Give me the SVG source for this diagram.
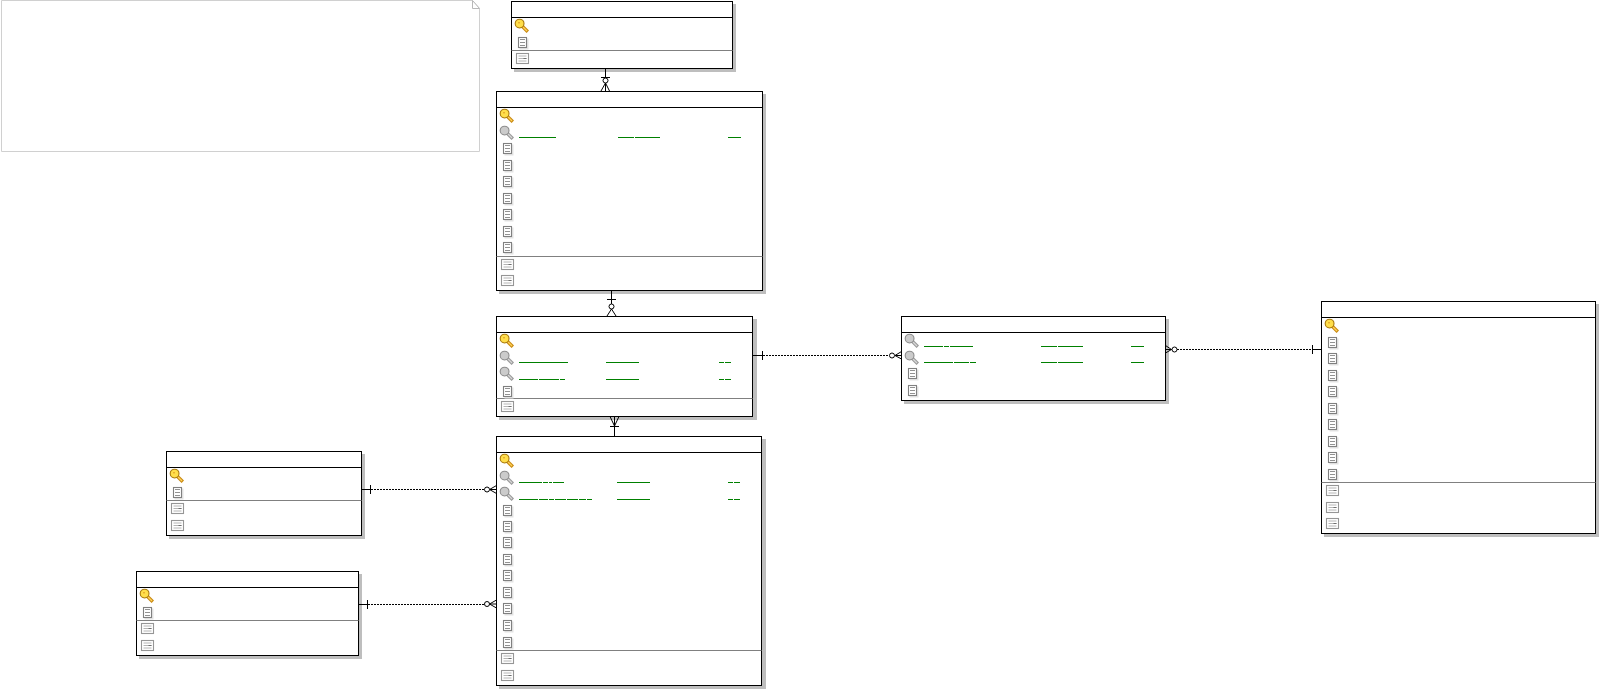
<svg xmlns="http://www.w3.org/2000/svg" width="1600" height="689" viewBox="0 0 1600 689">
<style>
.shadow{fill:#bebebe}
.box{fill:#fff;stroke:#000;stroke-width:1}
.hdr{fill:none;stroke:#000;stroke-width:1}
.div{fill:none;stroke:#808080;stroke-width:1}
.fk{fill:none;stroke:#008000;stroke-width:1}
.note{fill:#fff;stroke:#d0d0d0;stroke-width:1}
.fold{fill:#fff;stroke:#b8b8b8;stroke-width:1}
.solid{fill:none;stroke:#000;stroke-width:1}
.dot{fill:none;stroke:#000;stroke-width:1;stroke-dasharray:2 1}
.foot{fill:none;stroke:#000;stroke-width:1}
.ring{fill:#fff;stroke:#000;stroke-width:1}
</style>
<defs>
<g id="key">
<path d="M0 0L5.8 5.8" stroke="#c98a12" stroke-width="3.4" fill="none"/>
<path d="M1 1L5 5" stroke="#ffd25a" stroke-width="1.2" fill="none"/>
<circle cx="-2.4" cy="-2.4" r="4.4" fill="#ffde4a" stroke="#a8780a" stroke-width="1.1"/>
<path d="M-4 -3.2h2" stroke="#e09a20" stroke-width="1"/>
</g>
<g id="gkey">
<path d="M0 0L5.8 5.8" stroke="#9a9a9a" stroke-width="3.4" fill="none"/>
<path d="M1 1L5 5" stroke="#d8d8d8" stroke-width="1.2" fill="none"/>
<circle cx="-2.4" cy="-2.4" r="4.4" fill="#cbcbcb" stroke="#8c8c8c" stroke-width="1.1"/>
</g>
<g id="doc">
<rect x="-3.5" y="-3.5" width="9" height="11" fill="#e4e4e4"/>
<rect x="-4.5" y="-4.5" width="8" height="10" fill="#fff" stroke="#808080" stroke-width="1.1"/>
<path d="M-3 -2.5h5M-3 0.5h5M-3 3.5h5" stroke="#929292" stroke-width="1.2" fill="none"/>
</g>
<g id="op">
<rect x="-5.5" y="-4.5" width="12" height="10" fill="#fff" stroke="#969696" stroke-width="1.1"/>
<path d="M-3.5 -2h8M-3.5 0.5h8M-3.5 3h8" stroke="#b4b4b4" stroke-width="1" fill="none"/>
<path d="M1.5 0.5h3" stroke="#707070" stroke-width="1" fill="none"/>
</g>
</defs>

<g id="note">
<path class="note" d="M1.5 0.5H472.5L479.5 8.5V151.5H1.5Z"/>
<path class="fold" d="M472.5 0.5V8.5H479.5Z"/>
</g>

<g id="table-1">
<rect class="shadow" x="514" y="4" width="222" height="68"/>
<rect class="box" x="511.5" y="1.5" width="221" height="67"/>
<path class="hdr" d="M511.5 17.5H732.5"/><path class="div" d="M511.5 50.5H732.5"/>
<use href="#key" x="522" y="26"/><use href="#doc" x="523" y="42"/><use href="#op" x="522" y="58"/>
</g>

<g id="table-2">
<rect class="shadow" x="499" y="94" width="267" height="200"/>
<rect class="box" x="496.5" y="91.5" width="266" height="199"/>
<path class="hdr" d="M496.5 107.5H762.5"/><path class="div" d="M496.5 256.5H762.5"/>
<use href="#key" x="507" y="116"/><use href="#gkey" x="507" y="133"/>
<use href="#doc" x="508" y="148"/><use href="#doc" x="508" y="165"/><use href="#doc" x="508" y="181"/><use href="#doc" x="508" y="198"/><use href="#doc" x="508" y="214"/><use href="#doc" x="508" y="231"/><use href="#doc" x="508" y="247"/>
<use href="#op" x="507" y="264"/><use href="#op" x="507" y="280"/>
<path class="fk" d="M519 137.5H556M618 137.5H634M635 137.5H660M728 137.5H741"/>
</g>

<g id="table-3">
<rect class="shadow" x="499" y="319" width="258" height="101"/>
<rect class="box" x="496.5" y="316.5" width="256" height="100"/>
<path class="hdr" d="M496.5 332.5H752.5"/><path class="div" d="M496.5 398.5H752.5"/>
<use href="#key" x="507" y="341"/><use href="#gkey" x="507" y="358"/><use href="#gkey" x="507" y="374"/>
<use href="#doc" x="508" y="391"/><use href="#op" x="507" y="406"/>
<path class="fk" d="M519 362.5H568M606 362.5H639M719 362.5H724M725 362.5H731M519 379.5H538M539 379.5H559M560 379.5H565M606 379.5H639M719 379.5H724M725 379.5H731"/>
</g>

<g id="table-4">
<rect class="shadow" x="499" y="439" width="267" height="250"/>
<rect class="box" x="496.5" y="436.5" width="265" height="249"/>
<path class="hdr" d="M496.5 452.5H761.5"/><path class="div" d="M496.5 650.5H761.5"/>
<use href="#key" x="507" y="461"/><use href="#gkey" x="507" y="478"/><use href="#gkey" x="507" y="494"/>
<use href="#doc" x="508" y="510"/><use href="#doc" x="508" y="526"/><use href="#doc" x="508" y="542"/><use href="#doc" x="508" y="559"/><use href="#doc" x="508" y="575"/><use href="#doc" x="508" y="592"/><use href="#doc" x="508" y="608"/><use href="#doc" x="508" y="625"/><use href="#doc" x="508" y="642"/>
<use href="#op" x="507" y="658"/><use href="#op" x="507" y="675"/>
<path class="fk" d="M519 482.5H542M543 482.5H548M549 482.5H552M553 482.5H564M617 482.5H650M728 482.5H733M734 482.5H740M519 499.5H538M539 499.5H548M549 499.5H554M555 499.5H566M567 499.5H578M579 499.5H586M587 499.5H592M617 499.5H650M728 499.5H733M734 499.5H740"/>
</g>

<g id="table-5">
<rect class="shadow" x="904" y="319" width="265" height="85"/>
<rect class="box" x="901.5" y="316.5" width="264" height="84"/>
<path class="hdr" d="M901.5 332.5H1165.5"/>
<use href="#gkey" x="912" y="341"/><use href="#gkey" x="912" y="358"/>
<use href="#doc" x="913" y="373"/><use href="#doc" x="913" y="390"/>
<path class="fk" d="M924 346.5H943M944 346.5H949M950 346.5H973M1041 346.5H1057M1058 346.5H1083M1131 346.5H1144M924 362.5H953M954 362.5H969M970 362.5H976M1041 362.5H1057M1058 362.5H1083M1131 362.5H1144"/>
</g>

<g id="table-6">
<rect class="shadow" x="1324" y="304" width="275" height="233"/>
<rect class="box" x="1321.5" y="301.5" width="274" height="232"/>
<path class="hdr" d="M1321.5 317.5H1595.5"/><path class="div" d="M1321.5 482.5H1595.5"/>
<use href="#key" x="1332" y="326"/>
<use href="#doc" x="1333" y="342"/><use href="#doc" x="1333" y="358"/><use href="#doc" x="1333" y="375"/><use href="#doc" x="1333" y="391"/><use href="#doc" x="1333" y="408"/><use href="#doc" x="1333" y="424"/><use href="#doc" x="1333" y="441"/><use href="#doc" x="1333" y="457"/><use href="#doc" x="1333" y="474"/>
<use href="#op" x="1332" y="490"/><use href="#op" x="1332" y="507"/><use href="#op" x="1332" y="523"/>
</g>

<g id="table-7">
<rect class="shadow" x="169" y="454" width="196" height="85"/>
<rect class="box" x="166.5" y="451.5" width="195" height="84"/>
<path class="hdr" d="M166.5 467.5H361.5"/><path class="div" d="M166.5 500.5H361.5"/>
<use href="#key" x="177" y="476"/><use href="#doc" x="178" y="492"/><use href="#op" x="177" y="508"/><use href="#op" x="177" y="525"/>
</g>

<g id="table-8">
<rect class="shadow" x="139" y="574" width="223" height="85"/>
<rect class="box" x="136.5" y="571.5" width="222" height="84"/>
<path class="hdr" d="M136.5 587.5H358.5"/><path class="div" d="M136.5 620.5H358.5"/>
<use href="#key" x="147" y="596"/><use href="#doc" x="148" y="612"/><use href="#op" x="147" y="628"/><use href="#op" x="147" y="645"/>
</g>

<g id="connectors">
<path class="solid" d="M605.5 68.5V83M601 77.5H610"/>
<path class="foot" d="M605.5 83L601 91M605.5 83L609.5 91M605.5 83V91"/>
<circle class="ring" cx="605.5" cy="80.5" r="2.5"/>

<path class="solid" d="M611.5 290.5V304M607 299.5H616"/>
<path class="foot" d="M611.5 309L607 316M611.5 309L616 316"/>
<circle class="ring" cx="611.5" cy="306.5" r="2.5"/>

<path class="solid" d="M614.5 436.5V425M610 426.5H619"/>
<path class="foot" d="M614.5 426L610 416.5M614.5 426L619 416.5M614.5 426V416.5"/>

<path class="solid" d="M752.5 355.5H762M762.5 351V360"/>
<path class="dot" d="M763 355.5H889"/>
<path class="foot" d="M895 355.5L901.5 351.5M895 355.5L901.5 359M895 355.5H901.5"/>
<circle class="ring" cx="892" cy="355.5" r="2.5"/>

<path class="foot" d="M1171.5 349.5L1165.5 345.5M1171.5 349.5L1165.5 353M1171.5 349.5H1165.5"/>
<circle class="ring" cx="1174.5" cy="349.5" r="2.5"/>
<path class="dot" d="M1177 349.5H1312"/>
<path class="solid" d="M1312.5 345V354M1312 349.5H1321.5"/>

<path class="solid" d="M361.5 489.5H370M370.5 485V494"/>
<path class="dot" d="M371 489.5H484"/>
<path class="foot" d="M489.5 489.5L496.5 485.5M489.5 489.5L496.5 493.5M489.5 489.5H496.5"/>
<circle class="ring" cx="487" cy="489.5" r="2.5"/>

<path class="solid" d="M358.5 604.5H367M367.5 600V609"/>
<path class="dot" d="M368 604.5H484"/>
<path class="foot" d="M489.5 604L496.5 600M489.5 604L496.5 608M489.5 604H496.5"/>
<circle class="ring" cx="487" cy="604" r="2.5"/>
</g>
</svg>
